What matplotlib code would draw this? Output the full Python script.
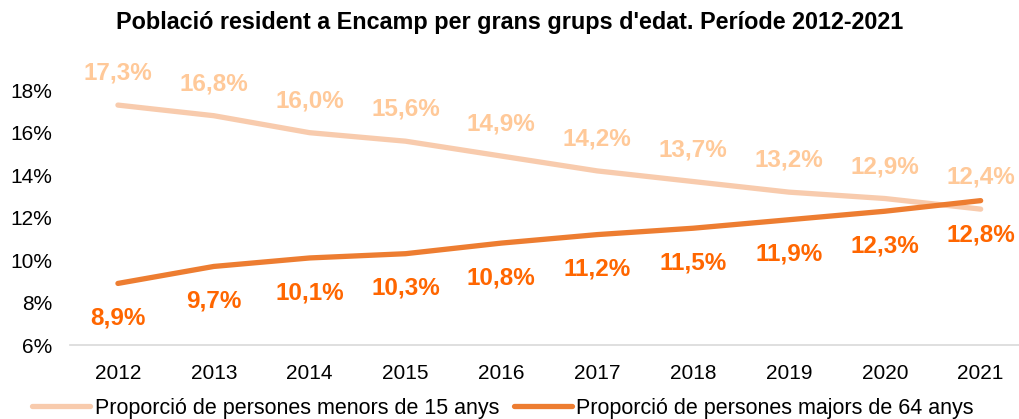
import matplotlib
matplotlib.use("Agg")
import matplotlib.pyplot as plt

years = [2012, 2013, 2014, 2015, 2016, 2017, 2018, 2019, 2020, 2021]
menors15 = [17.3, 16.8, 16.0, 15.6, 14.9, 14.2, 13.7, 13.2, 12.9, 12.4]
majors64 = [8.9, 9.7, 10.1, 10.3, 10.8, 11.2, 11.5, 11.9, 12.3, 12.8]
yticks = [6, 8, 10, 12, 14, 16, 18]

plt.rcParams['font.family'] = ['Liberation Sans', 'DejaVu Sans']

fig = plt.figure(figsize=(10.19, 4.19), dpi=100)
ax = fig.add_axes([70/1019, 1-345/419, 1-70/1019, (345-69)/419])

c_light = '#F8CBAD'
c_dark = '#ED7D31'
l1, = ax.plot(years, menors15, color=c_light, lw=3.8, solid_capstyle='round',
              label='Proporció de persones menors de 15 anys')
l2, = ax.plot(years, majors64, color=c_dark, lw=3.8, solid_capstyle='round',
              label='Proporció de persones majors de 64 anys')

for x, v in zip(years, menors15):
    ax.annotate(f"{v:.1f}%".replace('.', ','), (x, v), xytext=(0, 23),
                textcoords='offset points', ha='center', va='center',
                color='#FFC999', fontsize=17.5, fontweight='bold', annotation_clip=False)
for x, v in zip(years, majors64):
    ax.annotate(f"{v:.1f}%".replace('.', ','), (x, v), xytext=(0, -25),
                textcoords='offset points', ha='center', va='center',
                color='#FF6600', fontsize=17.5, fontweight='bold', annotation_clip=False)

ax.set_xlim(2011.5, 2021.4)
ax.set_ylim(6, 19)
ax.set_yticks(yticks)
ax.set_yticklabels([f"{t}%" for t in yticks], fontsize=15)
ax.set_xticks(years)
ax.set_xticklabels([str(y) for y in years], fontsize=15)
ax.tick_params(length=0)
ax.tick_params(axis='x', pad=14)
ax.tick_params(axis='y', pad=13)
for s in ['top', 'right', 'left']:
    ax.spines[s].set_visible(False)
ax.spines['bottom'].set_color('#D9D9D9')
ax.spines['bottom'].set_linewidth(1.2)

fig.text(510/1019, 1-22/419, "Població resident a Encamp per grans grups d'edat. Període 2012-2021",
         ha='center', va='center', fontsize=16.8, fontweight='bold')

fig.legend(handles=[l1, l2], loc='center', bbox_to_anchor=(503/1019, 1-408/419), ncol=2,
           frameon=False, fontsize=15.5, handlelength=2.7, handletextpad=0.2, columnspacing=0.7)

fig.savefig('out.png', dpi=100)
